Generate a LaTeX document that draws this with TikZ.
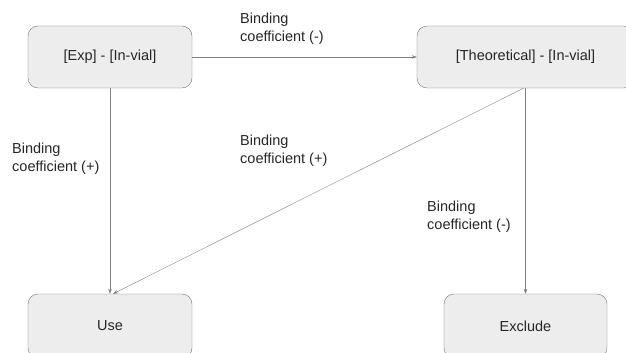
\documentclass[tikz,border=0pt]{standalone}
\usepackage{fontspec}
\setmainfont{Liberation Sans}
\usetikzlibrary{arrows.meta}

\begin{document}
\begin{tikzpicture}[x=1pt, y=-1pt,
		state/.style={draw=black!55, fill=black!7, rounded corners=10pt, thin, inner sep=0pt,
			font=\fontsize{14.5}{18}\selectfont, text=black!85},
		flow/.style={draw=black!50, thin, -{Stealth[length=5pt, width=3.5pt]}},
		lbl/.style={align=left, anchor=west, inner sep=0pt,
			font=\fontsize{14.5}{18}\selectfont, text=black!85}]
		\useasboundingbox (0, 0) rectangle (626, 353);

		% boxes
		\node[state, minimum width=164pt, minimum height=62pt] (exp) at (110, 57) {[Exp] - [In-vial]};
		\node[state, minimum width=217pt, minimum height=62pt] (theo) at (525.5, 57) {[Theoretical] - [In-vial]};
		\node[state, minimum width=164pt, minimum height=64pt] (use) at (110, 326) {Use};
		\node[state, minimum width=163pt, minimum height=64pt] (excl) at (525.5, 326) {Exclude};

		% arrows
		\draw[flow] (exp.east) -- (theo.west);
		\draw[flow] (exp.south) -- (use.north);
		\draw[flow] ([xshift=-2pt]theo.south) -- ([xshift=3pt]use.north);
		\draw[flow] (theo.south) -- (excl.north);

		% labels
		\node[lbl] (l1) at (240, 29) {Binding\\coefficient (-)};
		\node[lbl] (l2) at (12, 159) {Binding\\coefficient (+)};
		\node[lbl] (l3) at (240, 151) {Binding\\coefficient (+)};
		\node[lbl] (l4) at (427, 217) {Binding\\coefficient (-)};
	\end{tikzpicture}
\end{document}
